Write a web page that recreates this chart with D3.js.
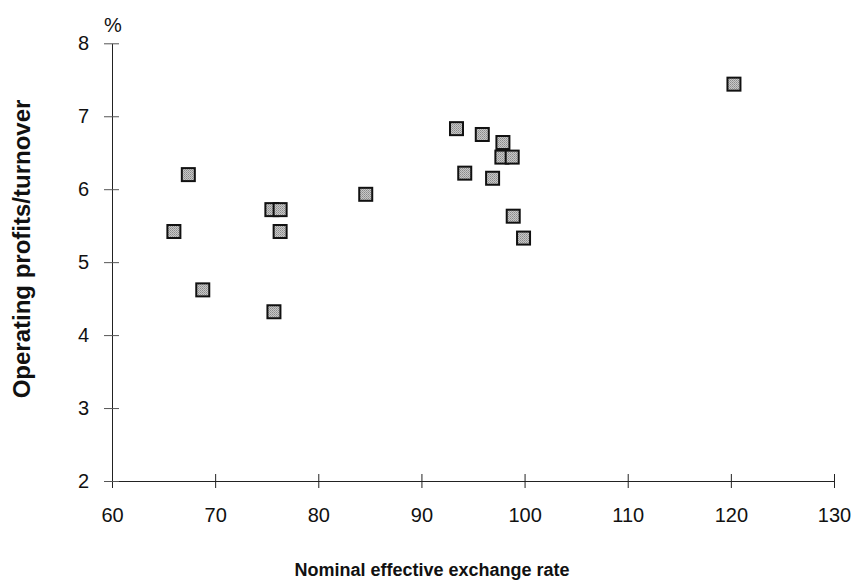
<!DOCTYPE html>
<html>
<head>
<meta charset="utf-8">
<script src="https://cdn.jsdelivr.net/npm/d3@7"></script>
<style>
  html, body { margin: 0; padding: 0; background: #fff; }
  svg { display: block; font-family: "Liberation Sans", Arial, Helvetica, sans-serif; }
</style>
</head>
<body>
<svg id="chart" width="858" height="582"></svg>
<script>
// Data
const exchangeRate = [66.0, 67.4, 68.8, 75.5, 76.3, 76.3, 75.7, 84.6, 93.4, 94.2, 95.9, 96.9, 97.9, 97.8, 98.8, 98.9, 99.9, 120.3];
const profitMargin = [5.42, 6.20, 4.62, 5.72, 5.72, 5.42, 4.32, 5.93, 6.83, 6.22, 6.75, 6.15, 6.64, 6.44, 6.44, 5.63, 5.33, 7.44];
const xTicks = [60, 70, 80, 90, 100, 110, 120, 130];
const yTicks = [2, 3, 4, 5, 6, 7, 8];
const xTitle = "Nominal effective exchange rate";
const yTitle = "Operating profits/turnover";
const yUnit = "%";

const points = exchangeRate.map((x, i) => ({ x, y: profitMargin[i] }));

const svg = d3.select("#chart");
const mLeft = 112, mRight = 834, mTop = 43.3, mBottom = 481;

const x = d3.scaleLinear().domain([60, 130]).range([mLeft, mRight]);
const y = d3.scaleLinear().domain([2, 8]).range([mBottom, mTop]);

// Speckled grey fill pattern
const defs = svg.append("defs");
const pat = defs.append("pattern")
  .attr("id", "speckle").attr("width", 2).attr("height", 2)
  .attr("patternUnits", "userSpaceOnUse");
pat.append("rect").attr("width", 2).attr("height", 2).attr("fill", "#c8c8c8");
pat.append("rect").attr("width", 1).attr("height", 1).attr("fill", "#8a8a8a");
pat.append("rect").attr("x", 1).attr("y", 1).attr("width", 1).attr("height", 1).attr("fill", "#9e9e9e");

const fmt = d3.format("d");

// X axis
const xAxis = d3.axisBottom(x).tickValues(xTicks).tickFormat(fmt).tickSize(7).tickSizeOuter(0).tickPadding(20);
const gx = svg.append("g").attr("transform", `translate(0,${mBottom})`).call(xAxis);
gx.select(".domain").attr("stroke", "#222");
gx.selectAll(".tick line").attr("stroke", "#222").attr("y1", -7).attr("y2", 7);
gx.selectAll(".tick text").attr("fill", "#111").attr("font-size", 20).attr("font-family", "Liberation Sans, Arial, sans-serif");

// Y axis
const yAxis = d3.axisLeft(y).tickValues(yTicks).tickFormat(fmt).tickSize(8).tickSizeOuter(0).tickPadding(15);
const gy = svg.append("g").attr("transform", `translate(${mLeft},0)`).call(yAxis);
gy.select(".domain").attr("stroke", "#222");
gy.selectAll(".tick line").attr("stroke", "#555").attr("x1", -8).attr("x2", 7);
gy.selectAll(".tick text").attr("fill", "#111").attr("font-size", 20).attr("font-family", "Liberation Sans, Arial, sans-serif");

// Unit label
svg.append("text")
  .attr("x", mLeft + 1).attr("y", 32)
  .attr("text-anchor", "middle")
  .attr("font-size", 20).attr("fill", "#111")
  .text(yUnit);

// Points
const s = 13;
svg.append("g").selectAll("rect").data(points).join("rect")
  .attr("x", d => x(d.x) - s / 2)
  .attr("y", d => y(d.y) - s / 2)
  .attr("width", s).attr("height", s)
  .attr("fill", "url(#speckle)")
  .attr("stroke", "#111").attr("stroke-width", 2);

// Axis titles
svg.append("text")
  .attr("x", 432).attr("y", 576)
  .attr("text-anchor", "middle")
  .attr("font-size", 18).attr("font-weight", "bold").attr("fill", "#111")
  .text(xTitle);

svg.append("text")
  .attr("transform", "translate(30,249) rotate(-90)")
  .attr("text-anchor", "middle")
  .attr("font-size", 24).attr("font-weight", "bold").attr("fill", "#111")
  .text(yTitle);
</script>
</body>
</html>
